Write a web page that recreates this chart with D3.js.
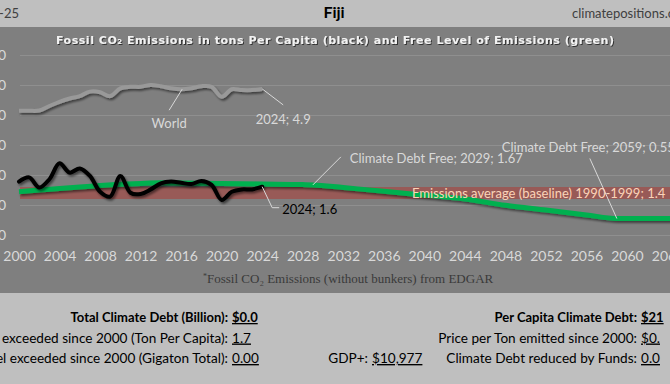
<!DOCTYPE html>
<html>
<head>
<meta charset="utf-8">
<script src="https://cdn.jsdelivr.net/npm/d3@7"></script>
<style>
  body { margin: 0; background: #bfbfbf; }
  svg { display: block; }
  .lbl { font-family: Lato, "Open Sans", sans-serif; }
</style>
</head>
<body>
<svg id="chart" width="670" height="384"></svg>
<script>
// Fossil CO2 per capita, Fiji (black line)
var fijiYears = d3.range(2000, 2025);
var fijiValues = [1.78, 1.92, 1.58, 1.86, 2.39, 2.08, 2.22, 1.97, 1.44, 1.28,
                  1.97, 1.41, 1.37, 1.52, 1.72, 1.78, 1.74, 1.70, 1.80, 1.67,
                  1.17, 1.44, 1.52, 1.52, 1.61];

// World per capita (grey line)
var worldValues = [4.14, 4.14, 4.15, 4.30, 4.44, 4.55, 4.63, 4.78, 4.76, 4.63,
                   4.89, 4.94, 4.94, 5.00, 4.96, 4.89, 4.86, 4.89, 4.96, 4.94,
                   4.61, 4.86, 4.83, 4.83, 4.87];

// Climate debt free level (green line)
var freeYears = [2000, 2002, 2004, 2006, 2008, 2010, 2012, 2014, 2016, 2020, 2024, 2028, 2029,
                 2032, 2036, 2040, 2044, 2048, 2052, 2056, 2059, 2062, 2066];
var freeValues = [1.44, 1.50, 1.55, 1.60, 1.65, 1.69, 1.72, 1.74, 1.73, 1.72, 1.70, 1.68, 1.67,
                  1.58, 1.46, 1.33, 1.20, 0.99, 0.83, 0.67, 0.55, 0.55, 0.55];

var baselineValue = 1.4;
var xTicks = d3.range(2000, 2065, 4);
var yTicks = [0, 1, 2, 3, 4, 5, 6];

var footerLeft = [
  {label: "Total Climate Debt (Billion):", value: "$0.0", bold: true},
  {label: "Free Level exceeded since 2000 (Ton Per Capita):", value: "1.7", bold: false},
  {label: "Free Level exceeded since 2000 (Gigaton Total):", value: "0.00", bold: false}
];
var footerRight = [
  {label: "Per Capita Climate Debt:", value: "$21", bold: true},
  {label: "Price per Ton emitted since 2000:", value: "$0.", bold: false},
  {label: "Climate Debt reduced by Funds:", value: "0.0", bold: false}
];

var svg = d3.select("#chart");
var W = 670, H = 384;

var x = d3.scaleLinear().domain([2000, 2066]).range([19, 19 + 66 * 10.133]);
var y = d3.scaleLinear().domain([0, 6]).range([235, 55]);

// filters
var defs = svg.append("defs");
var f = defs.append("filter").attr("id", "shadow").attr("x", "-10%").attr("y", "-50%")
  .attr("width", "120%").attr("height", "200%");
f.append("feDropShadow").attr("dx", 1.5).attr("dy", 2).attr("stdDeviation", 1.3)
  .attr("flood-color", "#000").attr("flood-opacity", 0.5);
var f2 = defs.append("filter").attr("id", "tshadow");
f2.append("feDropShadow").attr("dx", 1).attr("dy", 1).attr("stdDeviation", 0.6)
  .attr("flood-color", "#000").attr("flood-opacity", 0.6);

// backgrounds
svg.append("rect").attr("x", 0).attr("y", 0).attr("width", W).attr("height", 27).attr("fill", "#bfbfbf");
svg.append("rect").attr("x", 0).attr("y", 27).attr("width", W).attr("height", 266).attr("fill", "#7f7f7f");
svg.append("rect").attr("x", 0).attr("y", 293).attr("width", W).attr("height", H - 293).attr("fill", "#bfbfbf");

// header
svg.append("text").attr("class", "lbl").attr("x", 19).attr("y", 18).attr("text-anchor", "end")
  .attr("font-size", 13).attr("fill", "#404040").text("2025-06-25");
svg.append("text").attr("class", "lbl").attr("x", 334).attr("y", 18).attr("text-anchor", "middle")
  .attr("font-size", 16).attr("font-weight", "bold").attr("fill", "#000").text("Fiji");
svg.append("text").attr("class", "lbl").attr("x", 572).attr("y", 18)
  .attr("font-size", 13).attr("fill", "#404040").text("climatepositions.com");

svg.append("text").attr("x", 335).attr("y", 44).attr("text-anchor", "middle")
  .attr("font-family", "'DejaVu Sans', Verdana, sans-serif").attr("font-weight", "bold")
  .attr("font-size", 11).attr("fill", "#f2f2f2").attr("filter", "url(#tshadow)")
  .attr("textLength", 558).attr("lengthAdjust", "spacing")
  .text("Fossil CO\u2082 Emissions in tons Per Capita (black) and Free Level of Emissions (green)");

// gridlines
svg.append("g").selectAll("line").data(yTicks).join("line")
  .attr("x1", 20).attr("x2", W)
  .attr("y1", function(d) { return y(d) + 0.5; }).attr("y2", function(d) { return y(d) + 0.5; })
  .attr("stroke", "#8f8f8f").attr("stroke-width", 1);

// axes
var yAxis = d3.axisLeft(y).tickValues(yTicks).tickSize(0).tickPadding(0);
var gy = svg.append("g").attr("transform", "translate(6,0)").call(yAxis);
gy.select(".domain").remove();
gy.selectAll("text").attr("class", "lbl").attr("font-size", 14).attr("fill", "#d9d9d9").attr("dy", "0.35em");

var xAxis = d3.axisBottom(x).tickValues(xTicks).tickFormat(d3.format("d")).tickSize(0).tickPadding(0);
var gx = svg.append("g").attr("transform", "translate(0,251)").call(xAxis);
gx.select(".domain").remove();
gx.selectAll("text").attr("class", "lbl").attr("font-size", 14).attr("fill", "#d9d9d9").attr("dy", "0.71em");

// baseline band
svg.append("line").attr("x1", 20).attr("x2", W)
  .attr("y1", y(baselineValue)).attr("y2", y(baselineValue))
  .attr("stroke", "#a8413c").attr("stroke-opacity", 0.6).attr("stroke-width", 12);

var smooth = d3.line().curve(d3.curveCatmullRom)
  .x(function(d) { return x(d[0]); }).y(function(d) { return y(d[1]); });
var plain = d3.line().curve(d3.curveMonotoneX)
  .x(function(d) { return x(d[0]); }).y(function(d) { return y(d[1]); });

// world line
svg.append("path").datum(d3.zip(fijiYears, worldValues)).attr("d", smooth)
  .attr("fill", "none").attr("stroke", "#999999").attr("stroke-width", 4)
  .attr("stroke-linejoin", "round").attr("filter", "url(#shadow)");

// free level line
svg.append("path").datum(d3.zip(freeYears, freeValues)).attr("d", plain)
  .attr("fill", "none").attr("stroke", "#00b050").attr("stroke-width", 5)
  .attr("filter", "url(#shadow)");

// Fiji line
svg.append("path").datum(d3.zip(fijiYears, fijiValues)).attr("d", smooth)
  .attr("fill", "none").attr("stroke", "#000").attr("stroke-width", 4)
  .attr("stroke-linejoin", "round").attr("stroke-linecap", "round").attr("filter", "url(#shadow)");

// annotations
function leader(pts) {
  svg.append("polyline").attr("points", pts.map(function(p) { return p.join(","); }).join(" "))
    .attr("fill", "none").attr("stroke", "#d9d9d9").attr("stroke-width", 1);
}
function note(tx, ty, txt, anchor, color) {
  svg.append("text").attr("class", "lbl").attr("x", tx).attr("y", ty)
    .attr("text-anchor", anchor).attr("font-size", 13).attr("fill", color).text(txt);
}

var wx = x(2016.1), wy = y(4.86);
leader([[wx, wy], [wx - 13, wy + 21]]);
note(wx - 13, wy + 39, "World", "middle", "#d9d9d9");

var lw = worldValues[worldValues.length - 1];
var ex = x(2024), ey = y(lw);
leader([[ex, ey], [ex + 21, ey + 16]]);
note(ex + 21, ey + 35, "2024; " + d3.format(".1f")(lw), "middle", "#d9d9d9");

var c1x = x(2029), c1y = y(1.67);
leader([[c1x, c1y], [c1x + 28, c1y - 28]]);
note(c1x + 37, c1y - 22, "Climate Debt Free; 2029; 1.67", "start", "#d9d9d9");

var c2x = x(2059), c2y = y(0.55);
leader([[c2x, c2y], [c2x - 27, c2y - 60]]);
note(c2x - 115, c2y - 67, "Climate Debt Free; 2059; 0.55", "start", "#d9d9d9");

var lf = fijiValues[fijiValues.length - 1];
var fx = x(2024), fy = y(lf);
leader([[fx, fy], [fx + 10, fy + 21], [fx + 17, fy + 21]]);
note(fx + 20, fy + 27, "2024; " + d3.format(".1f")(lf), "start", "#000");

note(412, y(baselineValue) + 5, "Emissions average (baseline) 1990-1999; " + baselineValue, "start", "#fbd3b8");

// source note
var src = svg.append("text").attr("x", 203).attr("y", 283)
  .attr("font-family", "'Liberation Serif', 'Times New Roman', serif").attr("font-size", 13).attr("fill", "#3a3a3a");
src.append("tspan").attr("font-size", 8).attr("dy", -4).text("*");
src.append("tspan").attr("dy", 4).text("Fossil CO\u2082 Emissions (without bunkers) from EDGAR");

// footer
function footerRow(rows, xr) {
  rows.forEach(function(r, i) {
    var ty = 322 + i * 20.5;
    var fs = r.bold ? 13 : 13.6;
    svg.append("text").attr("class", "lbl").attr("x", xr).attr("y", ty).attr("text-anchor", "end")
      .attr("font-size", fs).attr("font-weight", r.bold ? "bold" : "normal").attr("fill", "#000").text(r.label);
    svg.append("text").attr("class", "lbl").attr("x", xr + 4).attr("y", ty)
      .attr("font-size", fs).attr("font-weight", r.bold ? "bold" : "normal").attr("fill", "#000")
      .attr("text-decoration", "underline").text(r.value);
  });
}
footerRow(footerLeft, 228);
footerRow(footerRight, 637);

svg.append("text").attr("class", "lbl").attr("x", 368).attr("y", 363).attr("text-anchor", "end")
  .attr("font-size", 13.6).attr("fill", "#000").text("GDP+:");
svg.append("text").attr("class", "lbl").attr("x", 372).attr("y", 363)
  .attr("font-size", 13.6).attr("fill", "#000").attr("text-decoration", "underline").text("$10,977");
</script>
</body>
</html>
